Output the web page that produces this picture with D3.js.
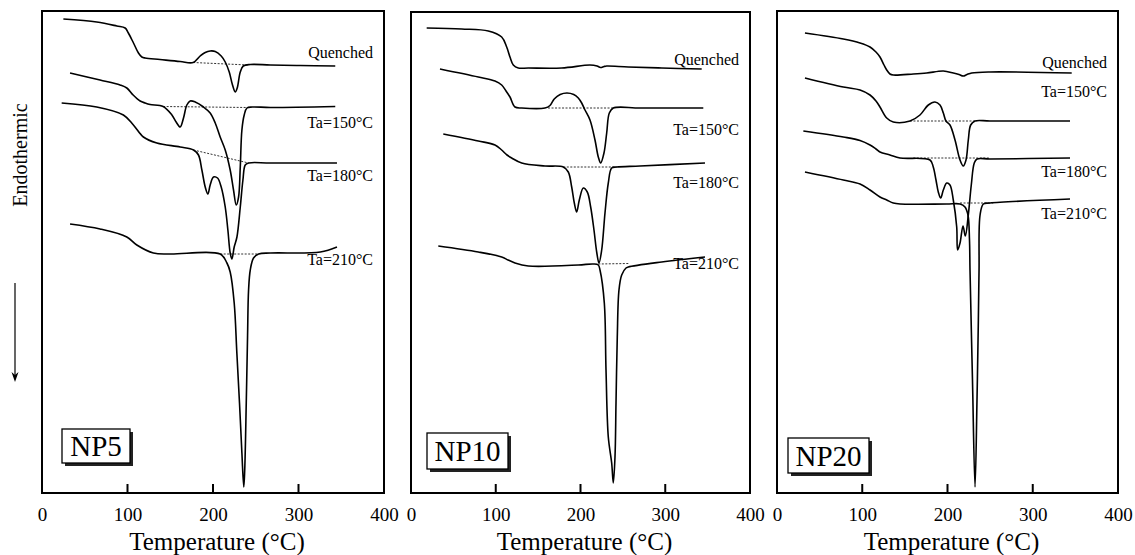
<!DOCTYPE html>
<html><head><meta charset="utf-8">
<script src="https://cdn.jsdelivr.net/npm/d3@7"></script>
<style>body{margin:0;background:#fff}svg{display:block}text{font-family:"Liberation Serif","Times New Roman",serif;fill:#000}</style>
</head><body><svg id="c" width="1135" height="555"></svg>
<script>
// ---- data: temperature (°C), heat flow (a.u., endothermic down) ----
const xTicks = [0, 100, 200, 300, 400];
const sampleNames = ["NP5", "NP10", "NP20"];
const curveNames = ["Quenched", "Ta=150°C", "Ta=180°C", "Ta=210°C"];

const np5Quenched = [[25,47.4],[64,47.1],[87.5,46.7],[97.2,46.5],[101,46.0],[107,45.0],[112.8,44.0],[116.8,43.6],[120.6,43.5],[138,43.35],[161.6,43.15],[176.8,43.05],[185,43.7],[190.9,44.05],[196.7,44.2],[202.6,44.15],[209.6,43.7],[214.3,43.1],[219,42.1],[222.5,40.9],[226,40.1],[228.3,40.5],[231.9,42.1],[235.4,42.7],[243.6,42.85],[267,42.8],[302,42.75],[343,42.7]];
const np5Ta150 = [[32.8,42.0],[67.9,41.3],[91.3,40.8],[99.2,40.5],[106.6,39.8],[114.8,39.2],[120.6,39.0],[126.5,38.85],[141.7,38.65],[151.9,37.8],[156.9,37.1],[161.6,36.6],[165.5,37.5],[169.4,38.8],[173.3,39.2],[179.2,39.1],[188.9,38.6],[196.7,38.0],[202.6,37.0],[208.4,35.6],[214.3,34.3],[220.1,32.3],[224,30.3],[227.2,28.8],[229.9,29.6],[231.9,32.6],[233.8,36.3],[236.5,37.8],[239.7,38.5],[245.9,38.6],[267,38.55],[343,38.65]];
const np5Ta180 = [[23,39.0],[64,38.6],[95.2,37.8],[106.9,36.8],[118.6,35.6],[134.3,35.0],[161.6,34.6],[177.2,34.3],[183,33.8],[187,32.3],[190.9,30.6],[194,29.9],[196.7,30.8],[200.6,31.6],[205.3,31.5],[209.6,30.6],[214.3,28.6],[217.4,26.3],[220.1,24.0],[222.1,23.4],[224.8,24.6],[228,25.6],[231.9,28.6],[235,31.3],[237.7,32.8],[241.6,33.0],[267,33.0],[345,33.0]];
const np5Ta210 = [[32.8,26.9],[67.9,26.4],[99.2,25.6],[110.9,24.8],[130.3,24.0],[149.9,23.9],[208.4,23.9],[216.3,23.0],[220.1,22.1],[224.8,19.0],[227.9,14.0],[231,9.0],[233.8,4.0],[236,0.6],[237.1,2.3],[238.9,9.0],[240.4,15.6],[241.6,20.3],[243.6,22.3],[247.4,23.5],[253.3,23.9],[267,24.0],[325.5,24.1],[345,24.6]];

const np10Quenched = [[18.5,46.5],[59.8,46.4],[91.2,46.2],[107,45.6],[112.9,44.6],[116.8,43.6],[120.7,42.8],[126.6,42.5],[138.4,42.5],[177.8,42.5],[211.2,42.8],[219.5,42.7],[223.6,42.55],[227.7,42.65],[230.9,42.7],[256.4,42.6],[295.8,42.5],[343,42.4]];
const np10Ta150 = [[34.2,42.4],[79.4,41.6],[99.1,41.2],[107,40.8],[112.1,40.2],[116.8,39.6],[122.7,38.6],[130.6,38.5],[158.1,38.5],[164,38.75],[169,39.4],[176,39.85],[184,40.0],[192,39.85],[197.4,39.5],[201.4,39.0],[205.3,38.3],[211.2,37.3],[217.1,35.3],[221,33.6],[223.8,33.0],[227.7,34.0],[230.9,36.0],[234,38.0],[238.7,38.5],[270.2,38.5],[344.9,38.5]];
const np10Ta180 = [[38.1,35.9],[79.4,35.2],[99.1,34.8],[107,34.3],[113.3,33.8],[118.8,33.5],[130.6,33.0],[158.1,32.7],[179.7,32.6],[185.6,32.1],[189.6,30.6],[192.7,29.0],[195.5,28.1],[198.6,29.3],[203.3,30.5],[208,30.1],[212,28.6],[215.9,26.3],[219.1,24.1],[221.8,23.0],[225,24.3],[228.9,28.0],[232.8,31.0],[236.8,32.5],[242.7,32.6],[270.2,32.7],[346.9,33.0]];
const np10Ta210 = [[32.2,24.7],[79.4,24.1],[107,23.6],[114.5,23.3],[122.7,23.0],[138.4,22.7],[197.4,22.8],[215.1,22.9],[221,22.8],[223,22.3],[228.1,19.0],[230.1,12.3],[232.8,5.6],[236.8,3.0],[238.7,1.0],[240.7,3.6],[241.9,9.0],[243.4,15.6],[245.4,20.3],[248.6,21.8],[253.7,22.5],[256.4,22.6],[295.8,23.1],[346.9,23.6]];

const np20Quenched = [[32.8,46.0],[77.8,45.4],[97.4,45.0],[109.1,44.6],[116.1,44.1],[120.8,43.6],[125.5,42.8],[128.7,42.3],[132.5,41.9],[136.4,41.8],[159.9,41.9],[175.6,42.0],[195.1,42.2],[206.8,42.0],[213.5,41.85],[218.5,41.7],[222.9,41.85],[228.4,42.0],[249.8,42.1],[345.7,42.0]];
const np20Ta150 = [[32.8,41.5],[77.8,40.6],[97.4,40.3],[109.1,39.8],[116.1,39.2],[120.8,38.6],[128.7,37.5],[136.4,37.1],[156,37.2],[167.7,37.8],[177.5,38.8],[185.3,39.1],[191.2,38.8],[195.1,38.0],[198.2,37.2],[202.9,36.8],[208.8,35.3],[214.7,33.3],[218.5,32.7],[221.7,33.3],[224.4,35.3],[227.2,36.8],[232.3,37.2],[249.8,37.2],[343.7,37.2]];
const np20Ta180 = [[30.9,36.2],[77.8,35.6],[97.4,35.25],[109.1,34.8],[116.1,34.4],[120.8,34.1],[132.5,33.8],[144.3,33.5],[179.5,33.3],[183.3,32.6],[186.5,31.3],[189.2,30.1],[192,29.5],[195.1,30.3],[199.1,31.0],[202.9,30.8],[206.8,29.3],[210.8,26.6],[211.9,24.3],[214.7,25.0],[218.2,26.7],[220.9,25.7],[224.4,27.8],[227.9,30.8],[231.4,33.0],[234.6,33.4],[249.8,33.4],[343.7,33.5]];
const np20Ta210 = [[32.8,32.1],[77.8,31.3],[97.4,30.9],[109.1,30.3],[120.8,29.6],[128.7,29.3],[136.4,29.0],[144.3,28.9],[199.1,28.9],[214.7,28.9],[220.5,28.6],[224,27.8],[225.8,25.3],[226.4,22.3],[229.3,11.3],[232.3,0.6],[234.6,9.3],[236.2,17.3],[237,22.3],[238.2,27.8],[242.1,28.9],[249.8,29.0],[343.7,29.4]];

// dotted baselines: [[T1,v1],[T2,v2]]
const np5Baselines = [[[176.8,43.05],[241.2,42.8]],[[141.7,38.65],[239.7,38.55]],[[177.2,34.3],[241.6,33.0]],[[208.4,23.9],[253.3,23.9]]];
const np10Baselines = [[[161.7,38.5],[238.7,38.5]],[[179.7,32.6],[242.7,32.6]],[[221,22.9],[256.4,22.95]]];
const np20Baselines = [[[156,37.2],[234.3,37.2]],[[159.9,33.5],[249.8,33.5]],[[214.7,29.0],[253.7,29.0]]];

// ---- layout ----
const panels = [
  {name: sampleNames[0], x0: 42, x1: 384, top: 11, curves: [np5Quenched, np5Ta150, np5Ta180, np5Ta210], base: np5Baselines,
   labelY: [58, 128, 181, 265], box: [62, 429, 68, 34]},
  {name: sampleNames[1], x0: 411, x1: 750, top: 12, curves: [np10Quenched, np10Ta150, np10Ta180, np10Ta210], base: np10Baselines,
   labelY: [65, 135, 188, 269], box: [427, 433, 81, 36]},
  {name: sampleNames[2], x0: 777, x1: 1118, top: 11, curves: [np20Quenched, np20Ta150, np20Ta180, np20Ta210], base: np20Baselines,
   labelY: [68, 97, 177, 219], box: [788, 438, 81, 35]}
];
const bottom = 493;
const svg = d3.select("#c");

panels.forEach(p => {
  const x = d3.scaleLinear().domain([0, 400]).range([p.x0, p.x1]);
  const y = d3.scaleLinear().domain([0, 48.2]).range([bottom, 11]);
  const g = svg.append("g");
  const line = d3.line().x(d => x(d[0])).y(d => y(d[1]));
  p.base.forEach(b => g.append("path").attr("d", line(b)).attr("fill", "none")
     .attr("stroke", "#333").attr("stroke-width", 1).attr("stroke-dasharray", "2,1.5"));
  const cl = d3.line().x(d => x(d[0])).y(d => y(d[1])).curve(d3.curveCatmullRom.alpha(0.5));
  p.curves.forEach(c => g.append("path").attr("d", cl(c)).attr("fill", "none")
     .attr("stroke", "#000").attr("stroke-width", 1.6).attr("stroke-linejoin", "round"));
  curveNames.forEach((n, i) => g.append("text").attr("x", p.x1 - 11).attr("y", p.labelY[i])
     .attr("text-anchor", "end").attr("font-size", 16).text(n));
  g.append("rect").attr("x", p.x0).attr("y", p.top).attr("width", p.x1 - p.x0).attr("height", bottom - p.top)
   .attr("fill", "none").attr("stroke", "#000").attr("stroke-width", 2);
  const ax = g.append("g").attr("transform", `translate(0,${bottom})`)
    .call(d3.axisBottom(x).tickValues(xTicks).tickSize(0).tickPadding(14).tickFormat(d3.format("d")));
  ax.select(".domain").remove();
  ax.selectAll("text").attr("font-size", 19).attr("font-family", "Liberation Serif").attr("dy", "0.75em");
  g.selectAll(".tk").data(xTicks.slice(1, -1)).enter().append("line")
   .attr("x1", d => x(d)).attr("x2", d => x(d)).attr("y1", bottom).attr("y2", bottom - 9)
   .attr("stroke", "#000").attr("stroke-width", 2);
  g.append("text").attr("x", (p.x0 + p.x1) / 2 + 4).attr("y", 550).attr("text-anchor", "middle")
   .attr("font-size", 25).text("Temperature (°C)");
  const [bx, by, bw, bh] = p.box;
  g.append("rect").attr("x", bx + 3).attr("y", by + 3).attr("width", bw).attr("height", bh).attr("fill", "#222");
  g.append("rect").attr("x", bx).attr("y", by).attr("width", bw).attr("height", bh).attr("fill", "#fff")
   .attr("stroke", "#000").attr("stroke-width", 1.3);
  g.append("text").attr("x", bx + bw / 2).attr("y", by + bh / 2 + 10).attr("text-anchor", "middle")
   .attr("font-size", 29).text(p.name);
});

svg.append("text").attr("transform", "translate(27,155) rotate(-90)").attr("text-anchor", "middle")
  .attr("font-size", 20).text("Endothermic");
svg.append("line").attr("x1", 15).attr("x2", 15).attr("y1", 283).attr("y2", 376).attr("stroke", "#000").attr("stroke-width", 1.2);
svg.append("path").attr("d", "M11.5,372 L15,382 L18.5,372 L15,375 Z").attr("fill", "#000");
</script></body></html>
